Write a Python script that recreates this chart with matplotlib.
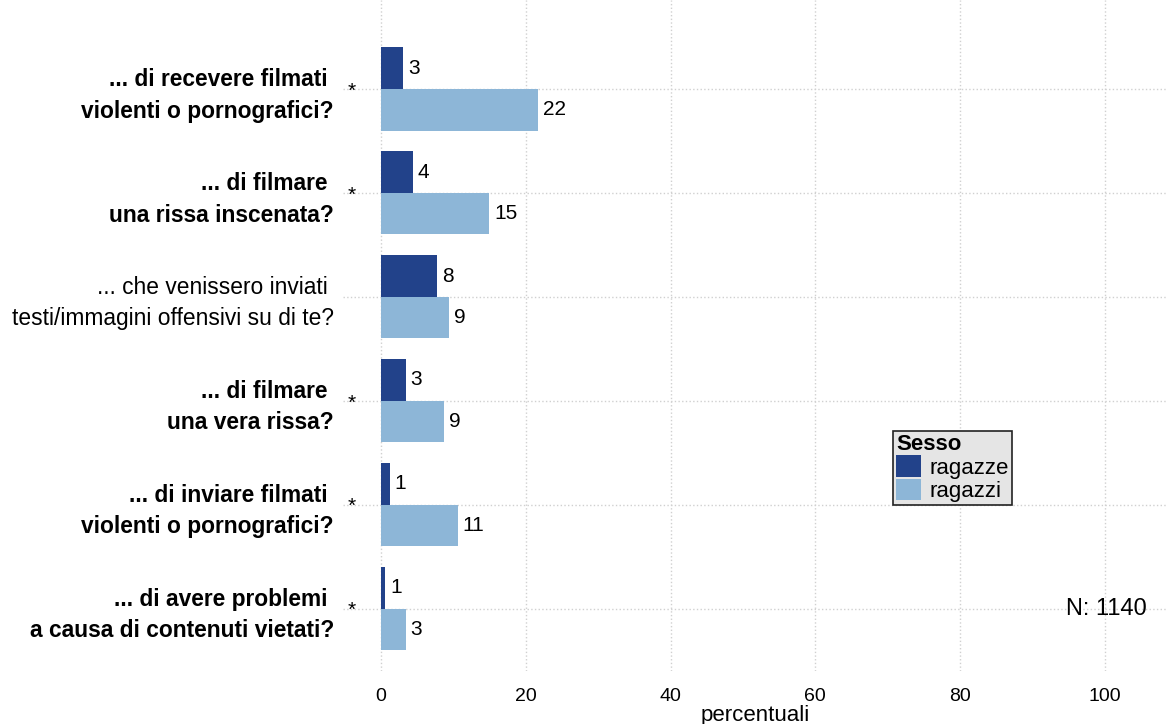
import matplotlib
matplotlib.use('Agg')
import numpy as np
import matplotlib.pyplot as plt
from matplotlib.patches import Patch

plt.rcParams['font.family'] = ['Liberation Sans', 'DejaVu Sans']

# Dati
domande = ['... di recevere filmati \nviolenti o pornografici?',
           '... di filmare \nuna rissa inscenata?',
           '... che venissero inviati \ntesti/immagini offensivi su di te?',
           '... di filmare \nuna vera rissa?',
           '... di inviare filmati \nviolenti o pornografici?',
           '... di avere problemi \na causa di contenuti vietati?']
significativo = [True, True, False, True, True, True]
ragazze = [3.0, 4.4, 7.7, 3.4, 1.2, 0.6]
ragazzi = [21.7, 14.9, 9.4, 8.7, 10.6, 3.4]
gruppi = ['ragazze', 'ragazzi']
colori = ['#22428a', '#8db6d7']
n_totale = 1140

W, H = 1167, 724
fig = plt.figure(figsize=(W / 100, H / 100), dpi=100)
ax = fig.add_axes([343 / W, 1 - 671 / H, (W - 343) / W, 671 / H])

pos = np.arange(len(domande))[::-1] + 1.0
h = 0.4
ax.barh(pos + h / 2, ragazze, height=h, color=colori[0], zorder=2)
ax.barh(pos - h / 2, ragazzi, height=h, color=colori[1], zorder=2)

# Etichette dei valori
for y, v in zip(pos, ragazze):
    ax.text(v + 0.7, y + h / 2, f'{v:.0f}', va='center', ha='left', fontsize=15)
for y, v in zip(pos, ragazzi):
    ax.text(v + 0.7, y - h / 2, f'{v:.0f}', va='center', ha='left', fontsize=15)

# Asterischi
for y, s in zip(pos, significativo):
    if s:
        ax.text(-4.0, y - 0.02, '*', ha='center', va='center', fontsize=15)

ax.set_xlim(-5.25, 108.6)
ax.set_ylim(0.4, 6.856)
ax.set_xticks([0, 20, 40, 60, 80, 100])
ax.set_yticks(pos)
ax.set_yticklabels(domande, fontsize=16.4, linespacing=1.45)
for lab, s in zip(ax.get_yticklabels(), significativo):
    lab.set_fontweight('bold' if s else 'normal')

ax.tick_params(axis='y', length=0, pad=6.5)
ax.tick_params(axis='x', length=0, pad=12, labelsize=14)
for sp in ax.spines.values():
    sp.set_visible(False)
ax.grid(True, color='#d0d0d0', linestyle=':', linewidth=1, zorder=0)
ax.set_axisbelow(True)

ax.set_xlabel('percentuali', fontsize=16, labelpad=0)

ax.text(1147 / W, 1 - 609 / H, f'N: {n_totale}', transform=fig.transFigure,
        ha='right', va='center', fontsize=17)

handles = [Patch(facecolor=c, edgecolor='none') for c in colori]
leg = ax.legend(handles, gruppi, title='Sesso', loc='upper left',
                bbox_to_anchor=(893 / W, 1 - 431 / H), bbox_transform=fig.transFigure,
                borderaxespad=0, fontsize=16, title_fontproperties={'weight': 'bold', 'size': 16},
                handlelength=1.1, handleheight=1.1, handletextpad=0.4, labelspacing=0,
                borderpad=0.15, fancybox=False, framealpha=1, alignment='left')
leg.get_frame().set_facecolor('#e5e5e5')
leg.get_frame().set_edgecolor('#222222')
leg.get_frame().set_linewidth(1.2)

fig.savefig('out.png', dpi=100)
